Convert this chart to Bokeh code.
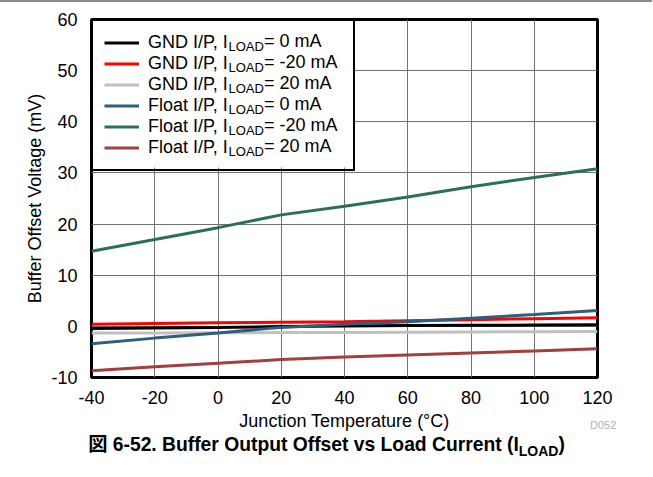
from bokeh.plotting import figure
from bokeh.models import Range1d, FixedTicker, Legend, LegendItem, Div, ColumnDataSource
from bokeh.core.properties import value
from bokeh.layouts import column
from bokeh.embed import file_html
from bokeh.resources import INLINE

# ---- data ----
temps = [-40, -20, 0, 20, 40, 60, 80, 100, 120]
gnd_0 = [-0.4, -0.3, -0.2, -0.05, 0.05, 0.15, 0.2, 0.25, 0.3]
gnd_m20 = [0.4, 0.55, 0.7, 0.8, 0.9, 1.1, 1.3, 1.5, 1.7]
gnd_p20 = [-1.3, -1.28, -1.25, -1.22, -1.2, -1.15, -1.1, -1.05, -1.0]
flt_0 = [-3.4, -2.3, -1.3, -0.2, 0.4, 0.9, 1.6, 2.3, 3.1]
flt_m20 = [14.7, 17.0, 19.3, 21.8, 23.5, 25.3, 27.3, 29.1, 30.8]
flt_p20 = [-8.7, -7.9, -7.2, -6.5, -6.0, -5.6, -5.2, -4.8, -4.4]

series = [gnd_0, gnd_m20, gnd_p20, flt_0, flt_m20, flt_p20]
series_prefix = ["GND I/P", "GND I/P", "GND I/P", "Float I/P", "Float I/P", "Float I/P"]
series_load = ["0 mA", "-20 mA", "20 mA", "0 mA", "-20 mA", "20 mA"]
colors = ["#000000", "#ff0000", "#c0c0c0", "#2e5f7c", "#2b7150", "#a23f3f"]

x_ticks = [-40, -20, 0, 20, 40, 60, 80, 100, 120]
x_tick_labels = ["-40", "-20", "0", "20", "40", "60", "80", "100", "120"]
y_ticks = [-10, 0, 10, 20, 30, 40, 50, 60]
y_tick_labels = ["-10", "0", "10", "20", "30", "40", "50", "60"]

FONT = "Liberation Sans"

# Arial / Liberation Sans advance widths (1/1000 em)
AW = {' ': 278, ',': 278, '/': 278, 'I': 278, 'G': 778, 'N': 722, 'D': 722, 'P': 667,
      'F': 611, 'l': 222, 'o': 556, 'a': 556, 't': 278, 'L': 556, 'O': 778, 'A': 667}


def text_w(s, size):
    return sum(AW.get(c, 556) for c in s) * size / 1000.0


FRAME_W, FRAME_H = 506, 358
p = figure(width=645, height=431, output_backend="svg", toolbar_location=None,
           x_range=Range1d(-40, 120), y_range=Range1d(-10, 60),
           min_border_left=91, min_border_right=48, min_border_top=17, min_border_bottom=56)

p.outline_line_color = "black"
p.outline_line_width = 3
p.background_fill_color = "white"
p.border_fill_color = "white"

p.xaxis.ticker = FixedTicker(ticks=x_ticks)
p.yaxis.ticker = FixedTicker(ticks=y_ticks)
p.xaxis.major_label_overrides = {t: s for t, s in zip(x_ticks, x_tick_labels)}
p.yaxis.major_label_overrides = {t: s for t, s in zip(y_ticks, y_tick_labels)}
for ax in (p.xaxis, p.yaxis):
    ax.axis_line_color = None
    ax.major_tick_line_color = None
    ax.minor_tick_line_color = None
    ax.major_label_text_font = FONT
    ax.major_label_text_font_size = "18px"
    ax.major_label_text_color = "black"
    ax.axis_label_text_font = FONT
    ax.axis_label_text_font_size = "18px"
    ax.axis_label_text_font_style = "normal"
    ax.axis_label_text_color = "black"
p.xaxis.major_label_standoff = 7
p.yaxis.major_label_standoff = 8
p.xaxis.axis_label = "Junction Temperature (°C)"
p.yaxis.axis_label = "Buffer Offset Voltage (mV)"
p.xaxis.axis_label_standoff = 4
p.yaxis.axis_label_standoff = 3

p.xgrid.grid_line_color = "#707070"
p.ygrid.grid_line_color = "#707070"
p.xgrid.grid_line_width = 1
p.ygrid.grid_line_width = 1

# legend box geometry (pixels) converted to data units
LEG_W, LEG_H = 262, 148
x_lo, x_hi = x_ticks[0], x_ticks[-1]
y_lo, y_hi = y_ticks[0], y_ticks[-1]
p.quad(left=[x_lo], right=[x_lo + LEG_W * (x_hi - x_lo) / FRAME_W],
       top=[y_hi], bottom=[y_hi - LEG_H * (y_hi - y_lo) / FRAME_H],
       fill_color="white", line_color=None)

renderers = []
for vals, col in zip(series, colors):
    r = p.line(temps, vals, line_color=col, line_width=3)
    renderers.append(r)

MAIN, SUB = 18, 13
main_txt = [pre + ", I" for pre in series_prefix]

legend = Legend(items=[LegendItem(label=t, renderers=[r]) for t, r in zip(main_txt, renderers)],
                location="top_left", margin=0, padding=11, spacing=0,
                glyph_width=35, glyph_height=21, label_height=21, label_width=194,
                label_standoff=9, border_line_color="black", border_line_width=2,
                border_line_alpha=1.0,
                label_text_font=FONT, label_text_font_size=f"{MAIN}px", label_text_color="black",
                background_fill_alpha=0.0)
p.add_layout(legend)

# subscript "LOAD" and the rest of each legend entry
n = len(series_prefix)
suf_txt = ["= " + ld for ld in series_load]
w1 = [text_w(t, MAIN) for t in main_txt]
w2 = text_w("LOAD", SUB)
mid = [11 + 10.5 + 21 * i for i in range(n)]
x0 = 55
src = ColumnDataSource(dict(
    x=[x_lo] * n, y=[y_hi] * n,
    t2=["LOAD"] * n, t3=suf_txt,
    xo2=[x0 + a for a in w1], xo3=[x0 + a + w2 for a in w1],
    yo1=mid, yo2=[m + 5.5 for m in mid],
))
p.text(x="x", y="y", text="t2", x_offset="xo2", y_offset="yo2", source=src,
       text_font=value(FONT), text_font_size=value(f"{SUB}px"), text_baseline="middle",
       text_color="black")
p.text(x="x", y="y", text="t3", x_offset="xo3", y_offset="yo1", source=src,
       text_font=value(FONT), text_font_size=value(f"{MAIN}px"), text_baseline="middle",
       text_color="black")

rule = Div(text="", width=652, height=2, margin=(0, 0, 0, 0),
           styles={"background-color": "#8c8c8c"})

title = Div(text='<div style="position:relative; width:645px; height:30px;">'
                 '<div style="position:absolute; left:590px; top:-15px; font-size:11px; '
                 'font-weight:normal; color:#b0b0b0;">D052</div>'
                 '<div style="position:relative; top:-2px; padding-left:8px; box-sizing:border-box; '
                 'width:645px; text-align:center;">'
                 '図 6-52. Buffer Output Offset vs Load Current (I<sub style="font-size:14px">LOAD</sub>)'
                 '</div></div>',
            width=645, height=30, margin=(0, 0, 0, 0),
            styles={"font-family": "'Liberation Sans', 'Noto Sans CJK JP', sans-serif",
                    "font-size": "19.3px", "font-weight": "bold", "color": "black",
                    "overflow": "visible"})

layout = column(rule, p, title, spacing=0)
open("out.html", "w").write(file_html(layout, INLINE))
